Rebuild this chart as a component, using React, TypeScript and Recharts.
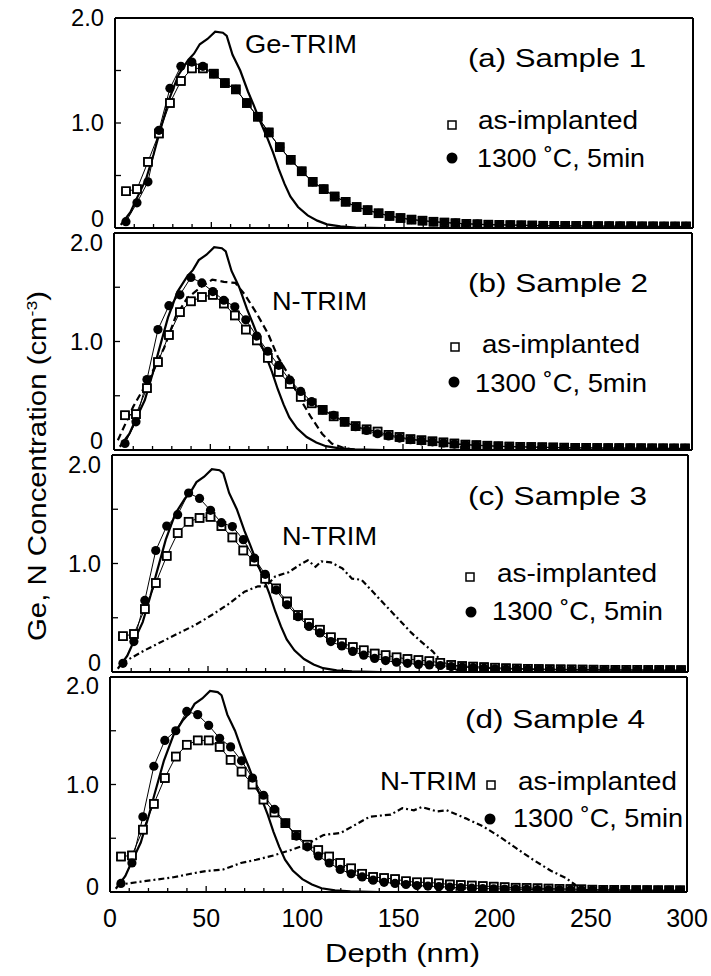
import React from 'react';
import { ComposedChart, Line, XAxis, YAxis } from 'recharts';

const FONT = '"Liberation Sans", Arial, Helvetica, sans-serif';

// SIMS depth grid (nm)
const DEPTH = [
  5.7, 11.4, 17.1, 22.8, 28.5, 34.2, 39.9, 45.6, 51.3, 57.0, 62.7, 68.4, 74.1, 79.8, 85.5, 91.2,
  96.9, 102.6, 108.3, 114.0, 119.7, 125.4, 131.1, 136.8, 142.5, 148.2, 153.9, 159.6, 165.3, 171.0,
  176.7, 182.4, 188.1, 193.8, 199.5, 205.2, 210.9, 216.6, 222.3, 228.0, 233.7, 239.4, 245.1, 250.8,
  256.5, 262.2, 267.9, 273.6, 279.3, 285.0, 290.7, 296.4,
];

// (a) Sample 1
const A_AS = [
  0.35, 0.37, 0.63, 0.90, 1.19, 1.40, 1.52, 1.52, 1.47, 1.38, 1.32, 1.19, 1.06, 0.91, 0.77, 0.65,
  0.54, 0.44, 0.37, 0.30, 0.25, 0.20, 0.17, 0.14, 0.115, 0.095, 0.08, 0.07, 0.06, 0.052, 0.046, 0.04,
  0.036, 0.032, 0.03, 0.028, 0.026, 0.024, 0.022, 0.021, 0.02, 0.02, 0.019, 0.018, 0.018, 0.017,
  0.017, 0.016, 0.016, 0.015, 0.015, 0.015,
];
const A_ANN = [
  0.06, 0.24, 0.44, 0.93, 1.33, 1.54, 1.58, 1.54, 1.47, 1.38, 1.32, 1.19, 1.06, 0.91, 0.77, 0.65,
  0.54, 0.44, 0.37, 0.30, 0.25, 0.20, 0.17, 0.14, 0.115, 0.095, 0.08, 0.07, 0.06, 0.052, 0.046, 0.04,
  0.036, 0.032, 0.03, 0.028, 0.026, 0.024, 0.022, 0.021, 0.02, 0.02, 0.019, 0.018, 0.018, 0.017,
  0.017, 0.016, 0.016, 0.015, 0.015, 0.015,
];

// (b) Sample 2
const B_AS = [
  0.32, 0.33, 0.57, 0.81, 1.06, 1.27, 1.37, 1.41, 1.43, 1.35, 1.24, 1.11, 1.01, 0.85, 0.72, 0.61,
  0.49, 0.43, 0.37, 0.31, 0.26, 0.22, 0.19, 0.17, 0.14, 0.12, 0.10, 0.09, 0.08, 0.07, 0.06, 0.05,
  0.045, 0.04, 0.035, 0.032, 0.03, 0.028, 0.026, 0.024, 0.022, 0.02, 0.02, 0.019, 0.018, 0.018,
  0.017, 0.017, 0.016, 0.016, 0.015, 0.015,
];
const B_ANN = [
  0.06, 0.26, 0.65, 1.11, 1.33, 1.43, 1.59, 1.54, 1.46, 1.38, 1.32, 1.20, 1.05, 0.91, 0.78, 0.645,
  0.54, 0.445, 0.37, 0.32, 0.26, 0.215, 0.18, 0.15, 0.13, 0.11, 0.095, 0.085, 0.075, 0.065, 0.055,
  0.048, 0.042, 0.038, 0.034, 0.03, 0.028, 0.026, 0.024, 0.022, 0.02, 0.02, 0.019, 0.018, 0.018,
  0.017, 0.017, 0.016, 0.016, 0.015, 0.015, 0.015,
];

// (c) Sample 3
const C_AS = [
  0.33, 0.35, 0.58, 0.82, 1.07, 1.28, 1.385, 1.42, 1.43, 1.345, 1.24, 1.12, 1.02, 0.86, 0.77, 0.65,
  0.525, 0.45, 0.39, 0.32, 0.27, 0.23, 0.20, 0.17, 0.155, 0.135, 0.12, 0.11, 0.10, 0.085, 0.065,
  0.055, 0.05, 0.045, 0.04, 0.035, 0.032, 0.03, 0.028, 0.026, 0.025, 0.024, 0.023, 0.022, 0.021,
  0.02, 0.02, 0.02, 0.019, 0.019, 0.018, 0.018,
];
const C_ANN = [
  0.08, 0.28, 0.66, 1.12, 1.345, 1.45, 1.65, 1.60, 1.49, 1.376, 1.34, 1.22, 1.05, 0.90, 0.755, 0.62,
  0.51, 0.42, 0.36, 0.28, 0.24, 0.19, 0.155, 0.125, 0.105, 0.09, 0.08, 0.07, 0.065, 0.06, 0.05,
  0.045, 0.04, 0.035, 0.03, 0.028, 0.026, 0.024, 0.022, 0.02, 0.02, 0.019, 0.018, 0.018, 0.017,
  0.017, 0.016, 0.016, 0.015, 0.015, 0.015, 0.015,
];

// (d) Sample 4
const D_AS = [
  0.33, 0.34, 0.58, 0.82, 1.06, 1.26, 1.37, 1.41, 1.41, 1.35, 1.23, 1.12, 1.00, 0.86, 0.74, 0.64,
  0.53, 0.44, 0.39, 0.33, 0.27, 0.22, 0.17, 0.14, 0.13, 0.12, 0.10, 0.09, 0.09, 0.08, 0.07, 0.065,
  0.06, 0.055, 0.05, 0.045, 0.04, 0.038, 0.035, 0.032, 0.03, 0.028, 0.025, 0.022, 0.02, 0.02,
  0.019, 0.018, 0.018, 0.017, 0.017, 0.016,
];
const D_ANN = [
  0.08, 0.27, 0.70, 1.17, 1.41, 1.50, 1.68, 1.65, 1.55, 1.43, 1.35, 1.22, 1.06, 0.90, 0.77, 0.64,
  0.52, 0.42, 0.335, 0.27, 0.21, 0.17, 0.14, 0.11, 0.09, 0.08, 0.07, 0.06, 0.055, 0.05, 0.045, 0.04,
  0.036, 0.032, 0.03, 0.028, 0.026, 0.024, 0.022, 0.02, 0.02, 0.019, 0.018, 0.018, 0.017, 0.017,
  0.016, 0.016, 0.015, 0.015, 0.015, 0.015,
];

// TRIM simulations
const GE_TRIM_X = [3, 8, 11, 16, 20, 23, 28, 33, 38, 41, 44, 48, 52, 56, 58, 61, 65, 69, 72, 75, 79, 82, 85, 88, 91, 95, 100, 105, 110, 117, 125, 140];
const GE_TRIM_Y = [0.03, 0.15, 0.27, 0.46, 0.7, 0.9, 1.22, 1.46, 1.6, 1.66, 1.75, 1.8, 1.87, 1.86, 1.83, 1.65, 1.5, 1.3, 1.17, 1.03, 0.86, 0.72, 0.56, 0.42, 0.3, 0.2, 0.12, 0.07, 0.035, 0.015, 0.005, 0];

const N_TRIM_B_X = [2, 10, 18, 26, 32, 38, 45, 51, 57, 63, 68, 74, 80, 85, 91, 96, 102, 108, 113, 119, 125];
const N_TRIM_B_Y = [0.09, 0.4, 0.65, 0.94, 1.23, 1.4, 1.5, 1.57, 1.55, 1.54, 1.43, 1.26, 1.07, 0.86, 0.68, 0.49, 0.31, 0.15, 0.06, 0.02, 0];

const N_TRIM_C_X = [5, 11, 17, 26, 35, 43, 52, 61, 69, 76, 80, 85, 92, 98, 102, 106, 109, 114, 120, 125, 130, 135, 140, 148, 156, 161, 167, 171, 176, 182];
const N_TRIM_C_Y = [0.08, 0.14, 0.2, 0.28, 0.36, 0.43, 0.525, 0.63, 0.74, 0.79, 0.79, 0.88, 0.92, 0.99, 1.03, 0.97, 1.02, 1.01, 0.955, 0.86, 0.85, 0.755, 0.66, 0.51, 0.36, 0.28, 0.19, 0.11, 0.05, 0];

const N_TRIM_D_X = [3.5, 16, 33, 42, 50, 59, 68, 76, 85, 94, 102, 111, 120, 128, 135, 146, 152, 158, 162, 170, 175, 185, 194, 203, 211, 220, 229, 237, 242, 246, 250];
const N_TRIM_D_Y = [0.065, 0.096, 0.137, 0.17, 0.195, 0.21, 0.27, 0.3, 0.34, 0.39, 0.44, 0.53, 0.55, 0.63, 0.7, 0.72, 0.78, 0.76, 0.79, 0.75, 0.76, 0.685, 0.61, 0.51, 0.41, 0.3, 0.2, 0.13, 0.065, 0.02, 0];

const X_TICKS = [0, 10, 20, 30, 40, 50, 60, 70, 80, 90, 100, 110, 120, 130, 140, 150, 160, 170, 180, 190, 200, 210, 220, 230, 240, 250, 260, 270, 280, 290, 300];
const Y_TICKS = [0, 0.5, 1, 1.5, 2];

const pts = (xs: number[], ys: number[]) => xs.map((x, i) => ({ x, y: ys[i] }));

const SquareFilled = (p: any) => (
  <rect key={`s${p.index}`} x={p.cx - 4} y={p.cy - 4} width={8} height={8} fill="#fff" stroke="#000" strokeWidth={1.5} />
);
const SquareOutline = (p: any) => (
  <rect key={`o${p.index}`} x={p.cx - 4} y={p.cy - 4} width={8} height={8} fill="none" stroke="#000" strokeWidth={1.5} />
);
const Dot = (p: any) => <circle key={`c${p.index}`} cx={p.cx} cy={p.cy} r={4.6} fill="#000" />;

const XTick = ({ x, y, payload, showLabel }: any) => {
  const v = payload.value;
  const major = v % 50 === 0;
  return (
    <g>
      <line x1={x} y1={y} x2={x} y2={y - (major ? 6 : 4)} stroke="#000" strokeWidth={1.3} />
      {showLabel && major && (
        <text x={x} y={y + 35} textAnchor="middle" fontSize={25} fontFamily={FONT} fill="#000">
          {v}
        </text>
      )}
    </g>
  );
};

const YTick = ({ x, y, payload, lowShift, highShift }: any) => {
  const v = payload.value;
  const label = v === 0 ? '0' : v === 1 ? '1.0' : v === 2 ? '2.0' : null;
  const shift = v === 0 ? -lowShift : v === 2 ? highShift : 0;
  return (
    <g>
      <line x1={x} y1={y} x2={x + 6} y2={y} stroke="#000" strokeWidth={1.3} />
      {label && (
        <text x={x - 11} y={y + 8 + shift} textAnchor="end" fontSize={23} fontFamily={FONT} fill="#000"
          textLength={label === '0' ? 13 : 33} lengthAdjust="spacingAndGlyphs">
          {label}
        </text>
      )}
    </g>
  );
};

interface PanelProps {
  box: { l: number; r: number; t: number; b: number };
  asImpl: number[];
  annealed: number[];
  nx?: number[];
  ny?: number[];
  nDash?: string;
  showX?: boolean;
  lowShift: number;
  highShift: number;
}

function Panel({ box, asImpl, annealed, nx, ny, nDash, showX, lowShift, highShift }: PanelProps) {
  const pad = 20;
  const bottom = showX ? 50 : pad;
  const height = box.b - box.t + pad + bottom;
  const axisStyle = { stroke: '#000', strokeWidth: 2 };
  const sq = pts(DEPTH, asImpl);

  // axes are 1px thick, so margins are reduced by 1 on every side
  return (
    <div style={{ position: 'absolute', left: 0, top: box.t - pad }}>
      <ComposedChart width={711} height={height}
        margin={{ top: pad - 1, right: 711 - box.r - 1, bottom: bottom - 1, left: box.l - 1 }}>
        <XAxis type="number" dataKey="x" domain={[0, 300]} ticks={X_TICKS} interval={0} height={1}
          tickSize={0} tickMargin={0} tickLine={false} axisLine={axisStyle} allowDataOverflow
          tick={(p: any) => <XTick {...p} showLabel={showX} />} />
        <XAxis xAxisId="top" orientation="top" type="number" domain={[0, 300]} height={1}
          tick={false} tickLine={false} axisLine={axisStyle} />
        <YAxis type="number" domain={[0, 2]} ticks={Y_TICKS} interval={0} width={1} tickSize={0}
          tickMargin={0} tickLine={false} axisLine={axisStyle} allowDataOverflow
          tick={(p: any) => <YTick {...p} lowShift={lowShift} highShift={highShift} />} />
        <YAxis yAxisId="right" orientation="right" type="number" domain={[0, 2]} width={1}
          tick={false} tickLine={false} axisLine={axisStyle} />
        <Line data={pts(GE_TRIM_X, GE_TRIM_Y)} dataKey="y" stroke="#000" strokeWidth={2.2} dot={false}
          activeDot={false} isAnimationActive={false} />
        {nx && ny && (
          <Line data={pts(nx, ny)} dataKey="y" stroke="#000" strokeWidth={2.2} strokeDasharray={nDash}
            dot={false} activeDot={false} isAnimationActive={false} />
        )}
        <Line data={sq} dataKey="y" stroke="#000" strokeWidth={1} dot={SquareFilled}
          activeDot={false} isAnimationActive={false} />
        <Line data={pts(DEPTH, annealed)} dataKey="y" stroke="#000" strokeWidth={1} dot={Dot}
          activeDot={false} isAnimationActive={false} />
        <Line data={sq} dataKey="y" stroke="none" dot={SquareOutline}
          activeDot={false} isAnimationActive={false} />
      </ComposedChart>
    </div>
  );
}

const T = (props: any) => (
  <text fontFamily={FONT} fontSize={25} fill="#000" lengthAdjust="spacingAndGlyphs" {...props} />
);

const LegendSq = ({ x, y }: { x: number; y: number }) => (
  <rect x={x - 4} y={y - 4} width={8} height={8} fill="#fff" stroke="#000" strokeWidth={1.5} />
);
const LegendDot = ({ x, y }: { x: number; y: number }) => <circle cx={x} cy={y} r={5.5} fill="#000" />;

export default function App() {
  return (
    <div style={{ position: 'absolute', left: 0, top: 0, width: 711, height: 976, background: '#fff' }}>
      <Panel box={{ l: 115, r: 693, t: 18, b: 228 }} asImpl={A_AS} annealed={A_ANN}
        lowShift={9} highShift={0} />
      <Panel box={{ l: 114, r: 692, t: 233, b: 450 }} asImpl={B_AS} annealed={B_ANN}
        nx={N_TRIM_B_X} ny={N_TRIM_B_Y} nDash="7 4" lowShift={9} highShift={10} />
      <Panel box={{ l: 112, r: 688, t: 455, b: 672 }} asImpl={C_AS} annealed={C_ANN}
        nx={N_TRIM_C_X} ny={N_TRIM_C_Y} nDash="6 3 2 3" lowShift={9} highShift={10} />
      <Panel box={{ l: 110, r: 687, t: 677, b: 892 }} asImpl={D_AS} annealed={D_ANN}
        nx={N_TRIM_D_X} ny={N_TRIM_D_Y} nDash="6 3 2 3" showX lowShift={5} highShift={9} />

      <svg width={711} height={976} style={{ position: 'absolute', left: 0, top: 0, pointerEvents: 'none' }}>
        {/* (a) */}
        <T x={245} y={53} textLength={112}>Ge-TRIM</T>
        <T x={468} y={67} textLength={178}>(a) Sample 1</T>
        <LegendSq x={452} y={125} />
        <T x={478} y={129} textLength={160}>as-implanted</T>
        <LegendDot x={452} y={158} />
        <T x={477} y={167} textLength={168}>1300 ˚C, 5min</T>

        {/* (b) */}
        <T x={468} y={292} textLength={180}>(b) Sample 2</T>
        <T x={272} y={310} textLength={95}>N-TRIM</T>
        <LegendSq x={455} y={347} />
        <T x={482} y={353} textLength={158}>as-implanted</T>
        <LegendDot x={454} y={382} />
        <T x={475} y={392} textLength={172}>1300 ˚C, 5min</T>

        {/* (c) */}
        <T x={468} y={505} textLength={179}>(c) Sample 3</T>
        <T x={282} y={545} textLength={95}>N-TRIM</T>
        <LegendSq x={470} y={577} />
        <T x={497} y={582} textLength={160}>as-implanted</T>
        <LegendDot x={471} y={612} />
        <T x={492} y={620} textLength={171}>1300 ˚C, 5min</T>

        {/* (d) */}
        <T x={465} y={728} textLength={180}>(d) Sample 4</T>
        <T x={380} y={790} textLength={97}>N-TRIM</T>
        <LegendSq x={491} y={785} />
        <T x={518} y={790} textLength={159}>as-implanted</T>
        <LegendDot x={490} y={819} />
        <T x={513} y={827} textLength={170}>1300 ˚C, 5min</T>

        <T x={325} y={962} textLength={155}>Depth (nm)</T>
        <text x={46} y={466} transform="rotate(-90 46 466)" textAnchor="middle" fontFamily={FONT}
          fontSize={25} fill="#000" textLength={350} lengthAdjust="spacingAndGlyphs">
          Ge, N Concentration (cm<tspan dy={-9} fontSize={15}>-3</tspan><tspan dy={9}>)</tspan>
        </text>
      </svg>
    </div>
  );
}
